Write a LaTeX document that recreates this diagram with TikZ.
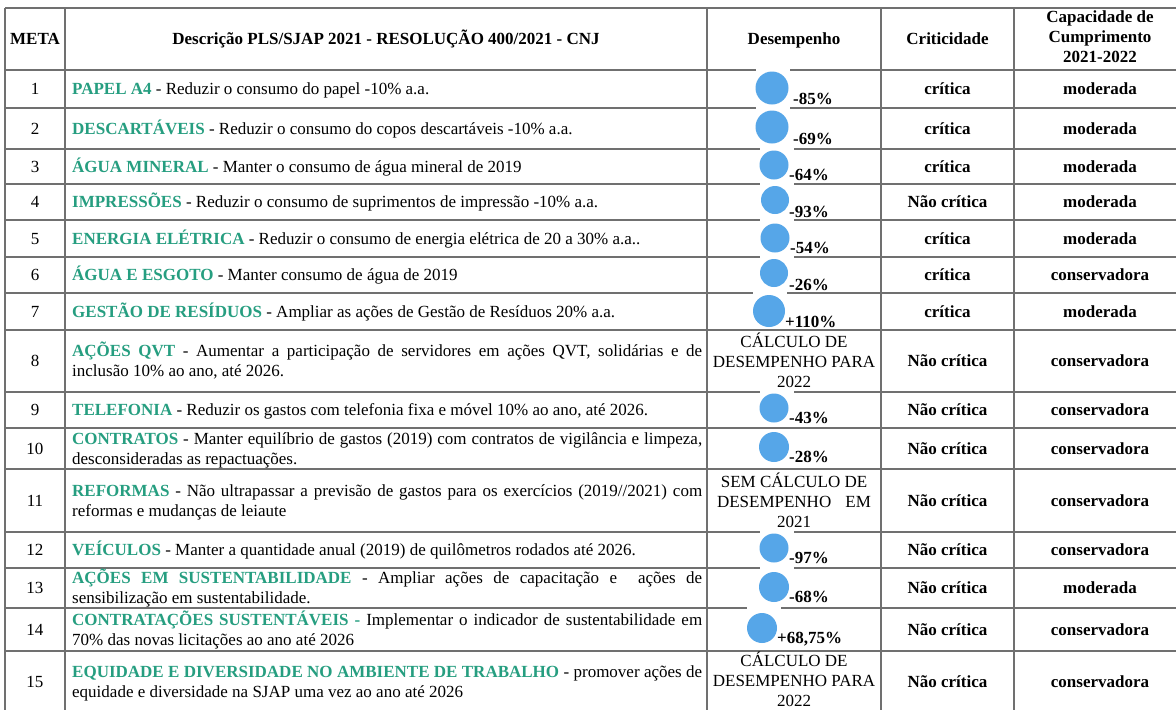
\documentclass[tikz,border=0pt]{standalone}
\usepackage{fontspec}
\setmainfont{Liberation Serif}
\usepackage{tikz}
\usetikzlibrary{positioning}
\definecolor{metagreen}{RGB}{38,158,128}
\definecolor{gridgray}{RGB}{112,112,112}
\definecolor{dotblue}{RGB}{86,166,232}
\newcommand{\metatitle}[1]{\textcolor{metagreen}{\textbf{#1}}}
\hyphenpenalty=10000

\begin{document}
\begin{tikzpicture}[x=1pt,y=-1pt]
\tikzstyle{cell}=[inner sep=0pt,font=\fontsize{17}{20}\selectfont,execute at begin node=\strut,execute at end node=\strut]
\tikzstyle{head}=[cell,font=\fontsize{17}{20}\selectfont\bfseries,align=center]
\tikzstyle{desc}=[cell,anchor=west,text width=630pt,align=justify]
\tikzstyle{calc}=[cell,align=center]
\tikzstyle{dot}=[circle,fill=dotblue,inner sep=0pt]
\tikzstyle{pct}=[inner sep=0pt,anchor=base west,font=\fontsize{17}{20}\selectfont\bfseries]
\tikzstyle{gridline}=[draw=gridgray,line width=1.3pt]
\useasboundingbox (0,0) rectangle (1176,710);
\fill[white] (0,0) rectangle (1176,710);

% grid
\foreach \ry in {8,70,108,149,184,220,257,293,330,392,428,469,532,568,608,651}
  \draw[gridline] (5,\ry) -- (1176,\ry);
\foreach \cx in {5,65,707,881,1014}
  \draw[gridline] (\cx,8) -- (\cx,710);

% white behind the dots
\foreach \gx/\gy in {756/70,756/108,760/149,760/184,760/220,760/257,753/293,760/392,760/532,760/568,747/608}
  \fill[white] (\gx,\gy-2) rectangle (\gx+34,\gy+2);

% header
\node[head] (hmeta) at (35,40) {META};
\node[head] (hdesc) at (386,40) {Descrição PLS/SJAP 2021 - RESOLUÇÃO 400/2021 - CNJ};
\node[head] (hdes) at (794,40) {Desempenho};
\node[head] (hcrit) at (947.5,40) {Criticidade};
\node[head] (hcap) at (1100,40) {Capacidade de\\Cumprimento\\2021-2022};

% meta numbers
\foreach \n/\ym in {1/90.5,2/130,3/168,4/203.5,5/240,6/276.5,7/313,8/362.5,9/411.5,10/450,11/502,12/551.5,13/589.5,14/631,15/683.5}
  \node[cell] (m\n) at (35,\ym) {\n};

% descriptions
\node[desc] (d1) at (72,90.5) {\metatitle{PAPEL A4} - Reduzir o consumo do papel -10\% a.a.};
\node[desc] (d2) at (72,130) {\metatitle{DESCARTÁVEIS} - Reduzir o consumo do copos descartáveis -10\% a.a.};
\node[desc] (d3) at (72,168) {\metatitle{ÁGUA MINERAL} - Manter o consumo de água mineral de 2019};
\node[desc] (d4) at (72,203.5) {\metatitle{IMPRESSÕES} - Reduzir o consumo de suprimentos de impressão -10\% a.a.};
\node[desc] (d5) at (72,240) {\metatitle{ENERGIA ELÉTRICA} - Reduzir o consumo de energia elétrica de 20 a 30\% a.a..};
\node[desc] (d6) at (72,276.5) {\metatitle{ÁGUA E ESGOTO} - Manter consumo de água de 2019};
\node[desc] (d7) at (72,313) {\metatitle{GESTÃO DE RESÍDUOS} - Ampliar as ações de Gestão de Resíduos 20\% a.a.};
\node[desc] (d8) at (72,362.5) {\metatitle{AÇÕES QVT} - Aumentar a participação de servidores em ações QVT, solidárias e de\linebreak inclusão 10\% ao ano, até 2026.};
\node[desc] (d9) at (72,411.5) {\metatitle{TELEFONIA} - Reduzir os gastos com telefonia fixa e móvel 10\% ao ano, até 2026.};
\node[desc] (d10) at (72,450) {\metatitle{CONTRATOS} - Manter equilíbrio de gastos (2019) com contratos de vigilância e limpeza,\linebreak desconsideradas as repactuações.};
\node[desc] (d11) at (72,502) {\metatitle{REFORMAS} - Não ultrapassar a previsão de gastos para os exercícios (2019//2021) com\linebreak reformas e mudanças de leiaute};
\node[desc] (d12) at (72,551.5) {\metatitle{VEÍCULOS} - Manter a quantidade anual (2019) de quilômetros rodados até 2026.};
\node[desc] (d13) at (72,589.5) {\metatitle{AÇÕES EM SUSTENTABILIDADE} - Ampliar ações de capacitação e\ \ ações de\linebreak sensibilização em sustentabilidade.};
\node[desc] (d14) at (72,631) {\metatitle{CONTRATAÇÕES SUSTENTÁVEIS -} Implementar o indicador de sustentabilidade em\linebreak 70\% das novas licitações ao ano até 2026};
\node[desc] (d15) at (72,683.5) {\metatitle{EQUIDADE E DIVERSIDADE NO AMBIENTE DE TRABALHO} - promover ações de\linebreak equidade e diversidade na SJAP uma vez ao ano até 2026};

% desempenho
\node[dot,minimum size=33pt] (b1) at (772,88) {};
\node[pct] (p1) at (793,104) {-85\%};
\node[dot,minimum size=33pt] (b2) at (772,127) {};
\node[pct] (p2) at (793,144) {-69\%};
\node[dot,minimum size=29pt] (b3) at (774,165) {};
\node[pct] (p3) at (789,180) {-64\%};
\node[dot,minimum size=28pt] (b4) at (775,200) {};
\node[pct] (p4) at (789,217) {-93\%};
\node[dot,minimum size=29pt] (b5) at (775,238) {};
\node[pct] (p5) at (790,253) {-54\%};
\node[dot,minimum size=28pt] (b6) at (774,273) {};
\node[pct] (p6) at (789,290) {-26\%};
\node[dot,minimum size=32pt] (b7) at (769,311) {};
\node[pct] (p7) at (785,327) {+110\%};
\node[calc] (c8) at (794,363.5) {CÁLCULO DE\\DESEMPENHO PARA\\2022};
\node[dot,minimum size=29pt] (b9) at (774,408) {};
\node[pct] (p9) at (789,423) {-43\%};
\node[dot,minimum size=30pt] (b10) at (774,447) {};
\node[pct] (p10) at (789,462) {-28\%};
\node[calc] (c11) at (794,503.5) {SEM CÁLCULO DE\\\makebox[154pt][s]{DESEMPENHO EM}\\2021};
\node[dot,minimum size=29pt] (b12) at (774,548) {};
\node[pct] (p12) at (789,563) {-97\%};
\node[dot,minimum size=30pt] (b13) at (774,587) {};
\node[pct] (p13) at (789,602) {-68\%};
\node[dot,minimum size=30pt] (b14) at (762,628) {};
\node[pct] (p14) at (777,643) {+68,75\%};
\node[calc] (c15) at (794,682.5) {CÁLCULO DE\\DESEMPENHO PARA\\2022};

% criticidade
\foreach \n/\ym/\crit in {1/90.5/crítica,2/130/crítica,3/168/crítica,4/203.5/Não crítica,5/240/crítica,6/276.5/crítica,7/313/crítica,8/362.5/Não crítica,9/411.5/Não crítica,10/450/Não crítica,11/502/Não crítica,12/551.5/Não crítica,13/589.5/Não crítica,14/631/Não crítica,15/683.5/Não crítica}
  \node[head] (k\n) at (947.5,\ym) {\crit};

% capacidade
\foreach \n/\ym/\cap in {1/90.5/moderada,2/130/moderada,3/168/moderada,4/203.5/moderada,5/240/moderada,6/276.5/conservadora,7/313/moderada,8/362.5/conservadora,9/411.5/conservadora,10/450/conservadora,11/502/conservadora,12/551.5/conservadora,13/589.5/moderada,14/631/conservadora,15/683.5/conservadora}
  \node[head] (q\n) at (1100,\ym) {\cap};
\end{tikzpicture}
\end{document}
